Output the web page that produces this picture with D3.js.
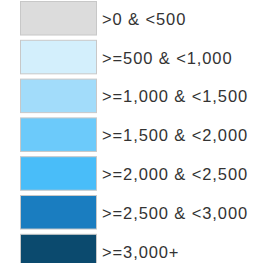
<!DOCTYPE html>
<html>
<head>
<meta charset="utf-8">
<script src="https://cdn.jsdelivr.net/npm/d3@7"></script>
<style>
  body { margin: 0; background: #fff; }
  svg { display: block; }
</style>
</head>
<body>
<div id="chart"></div>
<script>
const labels = ['>0 & <500', '>=500 & <1,000', '>=1,000 & <1,500', '>=1,500 & <2,000',
  '>=2,000 & <2,500', '>=2,500 & <3,000', '>=3,000+'];
const colors = ['#dcdcdc', '#d3effc', '#a2dcfa', '#6ccafa', '#49bdf9', '#1a7dc0', '#0b4a6e'];

const width = 256, height = 263;
const step = 38.8, pad = 0.11;

const svg = d3.select('#chart').append('svg').attr('width', width).attr('height', height);

const y = d3.scaleBand()
  .domain(labels)
  .range([1, 1 + step * (labels.length - pad)])
  .paddingInner(pad)
  .paddingOuter(0);

const rows = svg.selectAll('g.row')
  .data(labels)
  .enter()
  .append('g')
  .attr('class', 'row')
  .attr('transform', d => `translate(0,${y(d)})`);

rows.append('rect')
  .attr('x', 20.5)
  .attr('y', 0.5)
  .attr('width', 76)
  .attr('height', y.bandwidth() - 1)
  .attr('fill', (d, i) => colors[i])
  .attr('stroke', '#c8c8c8')
  .attr('stroke-width', 1);

rows.append('text')
  .attr('x', 102)
  .attr('y', y.bandwidth() / 2 + 6.5)
  .attr('font-family', 'Liberation Sans, Arial, sans-serif')
  .attr('font-size', 16.5)
  .attr('letter-spacing', 0.9)
  .attr('fill', '#333')
  .text(d => d);
</script>
</body>
</html>
